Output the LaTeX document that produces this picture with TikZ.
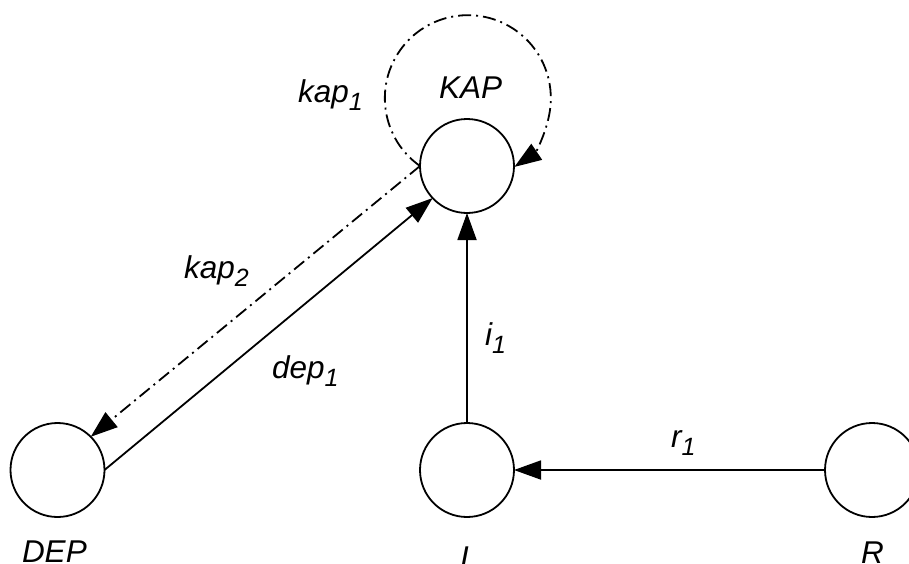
\documentclass[tikz,border=0pt]{standalone}
\usepackage{fontspec}
\setmainfont{Liberation Sans}
\usetikzlibrary{arrows.meta}
\newcommand\lbl[2]{\itshape #1\raisebox{-8pt}{\fontsize{25}{25}\selectfont #2}}
\tikzset{
  state/.style={circle, draw, line width=1.8pt, minimum size=94pt, inner sep=0pt, outer sep=0pt},
  txt/.style={inner sep=0pt, outer sep=0pt, anchor=base west, font=\fontsize{31.5}{38}\selectfont\itshape},
  conn/.style={line width=1.8pt, -{Triangle[length=27pt,width=19pt]}},
  dd/.style={dash pattern=on 13pt off 5pt on 2pt off 5pt}
}
\begin{document}
\begin{tikzpicture}[x=1pt,y=-1pt]
\clip (0,0) rectangle (909,563);
\useasboundingbox (0,0) rectangle (909,563);
\node[state] (KAP) at (467,166) {};
\node[state] (DEP) at (57.5,470) {};
\node[state] (I) at (467,470) {};
\node[state] (R) at (872,470) {};
% connectors
\draw[conn] (R) -- (I);
\draw[conn] (I) -- (KAP);
\draw[conn] (DEP.east) -- (KAP.223);
\draw[conn,dd] (KAP.west) -- (DEP.45);
\draw[conn,dd] (KAP.west) arc[start angle=-234.8, end angle=55.9, radius=83];
% labels
\node[txt] (tKAP) at (439,98) {KAP};
\node[txt] (tDEP) at (22,562) {DEP};
\node[txt] (tI) at (460,568) {I};
\node[txt] (tR) at (861,563) {R};
\node[txt] (tkap1) at (298,102) {\lbl{kap}{1}};
\node[txt] (tkap2) at (184,278) {\lbl{kap}{2}};
\node[txt] (tdep1) at (272,378) {\lbl{dep}{1}};
\node[txt] (ti1) at (485,345) {\lbl{i}{1}};
\node[txt] (tr1) at (671,447) {\lbl{r}{1}};
\end{tikzpicture}
\end{document}
